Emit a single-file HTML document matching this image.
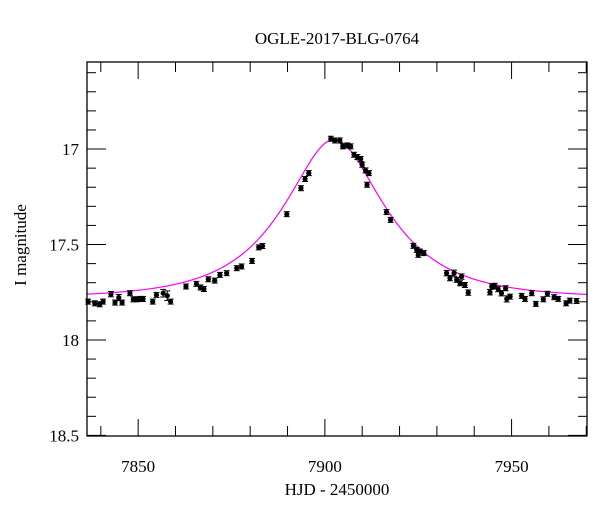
<!DOCTYPE html>
<html><head><meta charset="utf-8"><style>
html,body{margin:0;padding:0;background:#fff;}
svg{display:block;font-family:"Liberation Serif",serif;}
</style></head><body>
<svg id="chart" width="600" height="512" viewBox="0 0 600 512">
<rect x="0" y="0" width="600" height="512" fill="#fff"/>
<text x="337" y="44" text-anchor="middle" font-size="17" fill="#000">OGLE-2017-BLG-0764</text>
<text x="337" y="495" text-anchor="middle" font-size="17" fill="#000">HJD - 2450000</text>
<text transform="translate(26,245) rotate(-90)" text-anchor="middle" font-size="17" fill="#000">I magnitude</text>
<g id="axes"></g>
<g id="model"></g>
<g id="points"></g>
<rect x="87" y="62" width="500" height="374" fill="none" stroke="#000" stroke-width="1.3"/>
</svg>
<script>
const hjd = [7836.6,7838.4,7839.7,7840.6,7842.7,7843.8,7844.8,7845.7,7847.8,7848.7,7849.6,7850.5,7851.3,7853.9,7854.9,7856.7,7857.8,7858.7,7862.8,7865.6,7866.7,7867.6,7868.8,7870.5,7871.9,7873.7,7876.4,7877.7,7880.5,7882.3,7883.3,7889.8,7893.6,7894.7,7895.7,7901.6,7902.7,7904.0,7904.8,7906.0,7906.9,7907.8,7908.7,7909.6,7910.0,7910.9,7911.8,7911.3,7916.5,7917.6,7923.7,7924.6,7925.5,7926.5,7925.0,7932.6,7933.5,7934.6,7935.3,7936.6,7936.2,7937.5,7938.4,7944.7,7944.2,7945.5,7946.4,7947.3,7948.4,7948.7,7949.6,7952.7,7953.6,7955.4,7956.5,7958.5,7959.6,7961.4,7962.5,7964.6,7965.6,7967.4];
const imag = [17.799,17.808,17.813,17.799,17.760,17.804,17.778,17.804,17.755,17.787,17.787,17.785,17.785,17.799,17.764,17.755,17.768,17.799,17.720,17.706,17.725,17.733,17.682,17.689,17.659,17.650,17.624,17.615,17.586,17.515,17.508,17.341,17.205,17.157,17.126,16.946,16.955,16.955,16.986,16.981,16.986,17.030,17.042,17.052,17.082,17.112,17.126,17.187,17.330,17.371,17.507,17.528,17.537,17.545,17.554,17.650,17.676,17.650,17.685,17.668,17.703,17.712,17.752,17.720,17.750,17.717,17.734,17.755,17.729,17.785,17.773,17.769,17.785,17.755,17.811,17.787,17.758,17.776,17.785,17.808,17.794,17.796];
const ierr = [0.012,0.012,0.012,0.012,0.014,0.012,0.016,0.012,0.012,0.012,0.012,0.012,0.012,0.012,0.012,0.02,0.025,0.012,0.012,0.012,0.012,0.012,0.012,0.012,0.012,0.012,0.012,0.012,0.012,0.012,0.012,0.01,0.01,0.01,0.01,0.008,0.008,0.008,0.008,0.008,0.008,0.01,0.01,0.01,0.01,0.01,0.01,0.01,0.01,0.01,0.012,0.012,0.012,0.012,0.012,0.014,0.014,0.016,0.012,0.014,0.012,0.012,0.014,0.014,0.014,0.014,0.012,0.014,0.012,0.016,0.012,0.012,0.012,0.012,0.012,0.012,0.012,0.012,0.012,0.012,0.012,0.012];
const xTicks = [7850,7900,7950];
const yTicks = [17,17.5,18,18.5];
const modelT0 = 7902.5, modelU0 = 0.51, modelTE = 23, modelBase = 17.78;

const X0=87, X1=587, Y0=62, Y1=436;
const xmin=7836.3, xmax=7970.2, ymin=16.544, ymax=18.503;
const sx = t => X0 + (t - xmin) / (xmax - xmin) * (X1 - X0);
const sy = m => Y0 + (m - ymin) / (ymax - ymin) * (Y1 - Y0);
const NS='http://www.w3.org/2000/svg';
function mk(tag, attrs, parent){const e=document.createElementNS(NS,tag);for(const k in attrs)e.setAttribute(k,attrs[k]);parent.appendChild(e);return e;}
const axes=document.getElementById('axes');
// x ticks
for(let t=7840;t<=7970;t+=10){
  const x=sx(t); const major = t%50===0; const L = major?17:10;
  const a=mk('line',{x1:x,x2:x,y1:Y1,y2:Y1-L,stroke:'#000','stroke-width':1},axes);
  
  
  const b=mk('line',{x1:x,x2:x,y1:Y0,y2:Y0+L,stroke:'#000','stroke-width':1},axes);
  
  
}
xTicks.forEach(t=>{
  const tx=mk('text',{x:sx(t),y:472,'text-anchor':'middle','font-size':17,fill:'#000'},axes);
  tx.textContent=String(t);
  
  
});
for(let i=0;i<=19;i++){
  const m=16.6+i*0.1; const y=sy(m); const major=Math.abs(m*2-Math.round(m*2))<1e-6; const L=major?19:9;
  const a=mk('line',{x1:X0,x2:X0+L,y1:y,y2:y,stroke:'#000','stroke-width':1},axes);
  
  
  const b=mk('line',{x1:X1,x2:X1-L,y1:y,y2:y,stroke:'#000','stroke-width':1},axes);
  
  
}
yTicks.forEach(m=>{
  const tx=mk('text',{x:79,y:sy(m)+6,'text-anchor':'end','font-size':17,fill:'#000'},axes);
  tx.textContent=String(m);
  
  
});
// model
let d='';
for(let t=xmin;t<=xmax;t+=0.25){
  const tau=(t-modelT0)/modelTE; const u=Math.sqrt(modelU0*modelU0+tau*tau);
  const A=(u*u+2)/(u*Math.sqrt(u*u+4)); const m=modelBase-2.5*Math.log10(A);
  d+=(d?'L':'M')+sx(t).toFixed(2)+','+sy(m).toFixed(2);
}
const path=mk('path',{d:d,fill:'none',stroke:'#ff00ff','stroke-width':1.2},document.getElementById('model'));


// points
const pg=document.getElementById('points');
hjd.forEach((t,i)=>{
  const x=sx(t), y=sy(imag[i]), e=Math.max(sy(imag[i]+ierr[i])-y,2.5);
  const g=mk('g',{},pg);
  
  
  mk('line',{x1:x,x2:x,y1:y-e,y2:y+e,stroke:'#000','stroke-width':1},g);
  mk('line',{x1:x-3,x2:x+3,y1:y-e,y2:y-e,stroke:'#000','stroke-width':1},g);
  mk('line',{x1:x-3,x2:x+3,y1:y+e,y2:y+e,stroke:'#000','stroke-width':1},g);
  mk('circle',{cx:x,cy:y,r:2.6,fill:'#000'},g);
});
</script>
</body></html>
